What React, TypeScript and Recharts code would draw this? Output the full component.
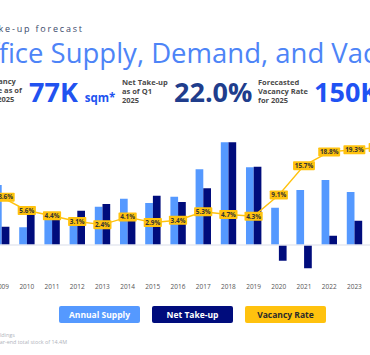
import { ComposedChart, Bar, Line, XAxis, YAxis, ReferenceLine, LabelList } from 'recharts';

const years = ['2009', '2010', '2011', '2012', '2013', '2014', '2015', '2016', '2017', '2018', '2019', '2020', '2021', '2022', '2023', '2024', '2025'];
// thousand sqm
const annualSupply = [180, 53, 90, 81, 115, 139, 126, 145, 227, 308, 233, 112, 165, 195, 159, 140, 150];
const netTakeUp = [55, 102, 95, 103, 123, 85, 148, 129, 170, 308, 235, -47, -70, 28, 73, 60, 77];
// percent
const vacancyRate = [8.6, 5.6, 4.4, 3.1, 2.4, 4.1, 2.9, 3.4, 5.3, 4.7, 4.3, 9.1, 15.7, 18.8, 19.3, 19.8, 22.0];

const legendItems = [
  { name: 'Annual Supply', fill: '#5599ff', color: '#ffffff' },
  { name: 'Net Take-up', fill: '#000c7c', color: '#ffffff' },
  { name: 'Vacancy Rate', fill: '#ffc20e', color: '#2a2a2a' },
];

const data = years.map((year, i) => ({
  year,
  supply: annualSupply[i],
  takeUp: netTakeUp[i],
  rate: vacancyRate[i],
}));

const SUPPLY = '#5599ff';
const TAKEUP = '#000c7c';
const YELLOW = '#ffc20e';
const font = '"Open Sans", sans-serif';

const YearTick = ({ x, y, payload }: any) => (
  <text x={x} y={y} dy={14.5} textAnchor="middle" fontSize={6.5} fill="#555" fontFamily={font}>
    {payload.value}
  </text>
);

const RateLabel = ({ x, y, value, index }: any) => {
  const text = `${Number(value).toFixed(1)}%`;
  const w = text.length * 3.7 + 3.4;
  const h = 9;
  // first label is pushed right so it stays inside the plot
  const cx = index === 0 ? x + 4 : x;
  return (
    <g>
      <rect x={cx - w / 2} y={y - h / 2} width={w} height={h} fill={YELLOW} rx={0.8} />
      <text x={cx} y={y + 2.3} textAnchor="middle" fontSize={6.4} fontWeight={700} fill="#333" fontFamily={font}>
        {text}
      </text>
    </g>
  );
};

const smallLabel: React.CSSProperties = {
  position: 'absolute',
  fontSize: 7.5,
  lineHeight: '9px',
  fontWeight: 700,
  color: '#4a4a4a',
  fontFamily: font,
  whiteSpace: 'nowrap',
};

const bigNum: React.CSSProperties = {
  position: 'absolute',
  fontSize: 27,
  lineHeight: '27px',
  fontWeight: 700,
  fontFamily: font,
  whiteSpace: 'nowrap',
};

export default function App() {
  return (
    <div style={{ position: 'absolute', left: 0, top: 0, width: 370, height: 355, overflow: 'hidden', background: '#fff', fontFamily: font }}>
      <div style={{ position: 'absolute', left: -15, top: 22, fontSize: 9, letterSpacing: 1.8, color: '#3b4a6b', whiteSpace: 'nowrap' }}>
        Take-up forecast
      </div>
      <div style={{ position: 'absolute', left: -32, top: 35, fontSize: 27.5, lineHeight: '36px', color: '#4d84f7', whiteSpace: 'nowrap' }}>
        Office Supply, Demand, and Vacancy
      </div>

      <div style={{ ...smallLabel, left: -15, top: 77 }}>Vacancy<br />Rate as of<br />Q1 2025</div>
      <div style={{ ...bigNum, left: 29, top: 78, color: '#2152f0' }}>
        77K <span style={{ fontSize: 11.5 }}>sqm*</span>
      </div>
      <div style={{ ...smallLabel, left: 122, top: 78 }}>Net Take-up<br />as of Q1<br />2025</div>
      <div style={{ ...bigNum, left: 174, top: 78, color: '#203d8c' }}>22.0%</div>
      <div style={{ ...smallLabel, left: 258, top: 78 }}>Forecasted<br />Vacancy Rate<br />for 2025</div>
      <div style={{ ...bigNum, left: 314, top: 78, color: '#1f52f3' }}>150K</div>

      <div style={{ position: 'absolute', left: -11.1, top: 0 }}>
        <ComposedChart width={428.4} height={355} data={data} margin={{ top: 110, right: 0, bottom: 50, left: 0 }} barGap={0}>
          <XAxis dataKey="year" height={30} axisLine={false} tickLine={false} tickSize={0} tickMargin={0} tick={<YearTick />} interval={0} />
          <YAxis yAxisId="bar" hide domain={[-90, 405]} allowDataOverflow />
          <YAxis yAxisId="rate" hide orientation="right" domain={[-8.95, 28.25]} allowDataOverflow />
          <ReferenceLine yAxisId="bar" y={0} stroke="#e6e8f1" strokeWidth={1.5} />
          <Bar yAxisId="bar" dataKey="supply" fill={SUPPLY} barSize={7.7} isAnimationActive={false} />
          <Bar yAxisId="bar" dataKey="takeUp" fill={TAKEUP} barSize={7.7} isAnimationActive={false} />
          <Line yAxisId="rate" dataKey="rate" type="linear" stroke={YELLOW} strokeWidth={1.4} dot={false} isAnimationActive={false}>
            <LabelList dataKey="rate" content={<RateLabel />} />
          </Line>
        </ComposedChart>
      </div>

      {legendItems.map((item, i) => (
        <div
          key={item.name}
          style={{
            position: 'absolute',
            left: 59 + i * 93,
            top: 306,
            width: 81,
            height: 17,
            background: item.fill,
            color: item.color,
            borderRadius: 2,
            fontSize: 8.5,
            fontWeight: 700,
            lineHeight: '17px',
            textAlign: 'center',
            fontFamily: font,
          }}
        >
          {item.name}
        </div>
      ))}

      <div style={{ position: 'absolute', left: -8, top: 332, fontSize: 5.4, lineHeight: '7px', color: '#b0b3bb', whiteSpace: 'nowrap' }}>
        buildings
      </div>
      <div style={{ position: 'absolute', left: -6, top: 339, fontSize: 5.4, lineHeight: '7px', color: '#b0b3bb', whiteSpace: 'nowrap' }}>
        year-end total stock of 14.4M
      </div>
    </div>
  );
}
